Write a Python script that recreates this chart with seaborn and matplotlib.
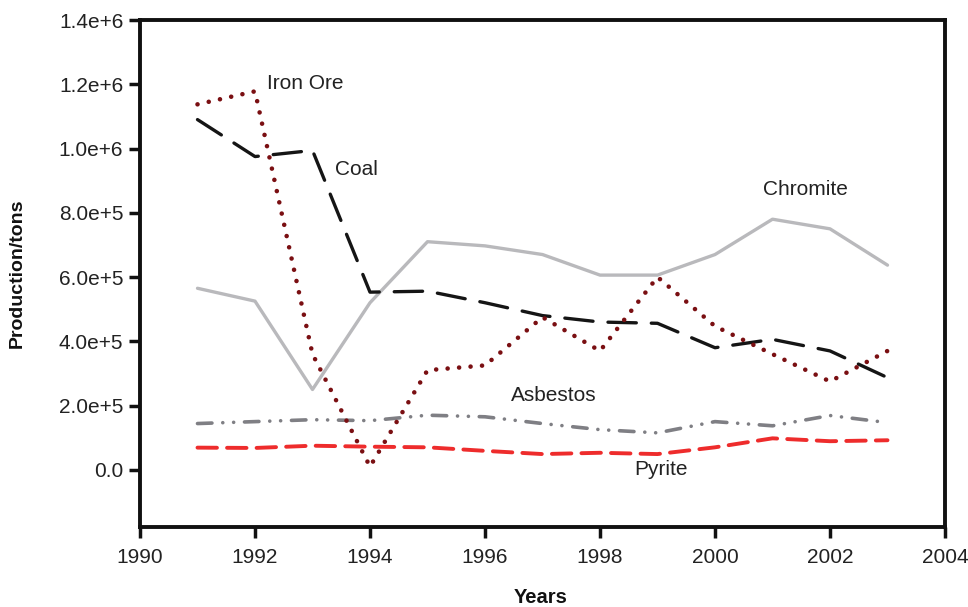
import matplotlib
matplotlib.use("Agg")
import matplotlib.pyplot as plt
import seaborn as sns
import pandas as pd

years = list(range(1991, 2004))
iron_ore = [1.1375e6, 1.178e6, 3.6e5, 1.0e4, 3.1e5, 3.25e5, 4.75e5, 3.7e5, 6.0e5, 4.47e5, 3.6e5, 2.75e5, 3.7e5]
coal = [1.09e6, 9.75e5, 9.94e5, 5.53e5, 5.56e5, 5.2e5, 4.8e5, 4.6e5, 4.56e5, 3.8e5, 4.06e5, 3.7e5, 2.87e5]
chromite = [5.65e5, 5.25e5, 2.5e5, 5.2e5, 7.1e5, 6.97e5, 6.7e5, 6.06e5, 6.06e5, 6.7e5, 7.8e5, 7.5e5, 6.37e5]
asbestos = [1.44e5, 1.5e5, 1.56e5, 1.53e5, 1.7e5, 1.65e5, 1.44e5, 1.25e5, 1.15e5, 1.5e5, 1.37e5, 1.69e5, 1.47e5]
pyrite = [6.9e4, 6.8e4, 7.5e4, 7.2e4, 7.0e4, 5.9e4, 4.9e4, 5.3e4, 4.9e4, 7.0e4, 9.8e4, 8.9e4, 9.2e4]

x_ticks = [1990, 1992, 1994, 1996, 1998, 2000, 2002, 2004]
y_ticks = [0, 2e5, 4e5, 6e5, 8e5, 1.0e6, 1.2e6, 1.4e6]
y_tick_labels = ["0.0", "2.0e+5", "4.0e+5", "6.0e+5", "8.0e+5", "1.0e+6", "1.2e+6", "1.4e+6"]

sns.set_style("white")
plt.rcParams['font.family'] = ['Liberation Sans', 'DejaVu Sans']

fig = plt.figure(figsize=(9.68, 6.07), dpi=100)
ax = fig.add_axes([140/968, 1-527/607, (945-140)/968, (527-20)/607])

series = [
    ("Chromite", chromite, "#b9b9bc", dict(linestyle="-", linewidth=2.4)),
    ("Asbestos", asbestos, "#7f7f84", dict(linestyle=(0, (4, 3, 0.01, 3, 0.01, 3)), linewidth=2.6, dash_capstyle="round")),
    ("Pyrite", pyrite, "#ee2c2c", dict(linestyle=(0, (5.0, 2.6)), linewidth=2.8, dash_capstyle="round")),
    ("Coal", coal, "#151515", dict(linestyle=(0, (8.5, 4.5)), linewidth=2.4, dash_capstyle="round")),
    ("Iron Ore", iron_ore, "#7a0f12", dict(linestyle=(0, (0.01, 2.5)), linewidth=3.3, dash_capstyle="round")),
]
for name, vals, color, kw in series:
    df = pd.DataFrame({"Year": years, "Value": vals})
    sns.lineplot(data=df, x="Year", y="Value", ax=ax, color=color, **kw)

labels = [
    ("Iron Ore", 1992.21, 1.203e6),
    ("Coal", 1993.39, 9.34e5),
    ("Chromite", 2000.83, 8.72e5),
    ("Asbestos", 1996.45, 2.31e5),
    ("Pyrite", 1998.59, 0.0),
]
for txt, lx, ly in labels:
    ax.text(lx, ly, txt, fontsize=15, color="#222222", va="center", ha="left")

ax.set_xlim(1990, 2004)
ax.set_ylim(-1.78e5, 1.4e6)
ax.set_xticks(x_ticks)
ax.set_yticks(y_ticks)
ax.set_yticklabels(y_tick_labels)
ax.tick_params(axis="both", direction="out", length=8, width=2.5, labelsize=15,
               colors="#111111", labelcolor="#222222", pad=4, bottom=True, left=True)
ax.tick_params(axis="x", pad=7)
for sp in ax.spines.values():
    sp.set_linewidth(2.8)
    sp.set_color("#111111")
    sp.set_visible(True)
ax.set_xlabel("Years", fontsize=14.5, fontweight="bold", color="#111111")
ax.set_ylabel("Production/tons", fontsize=14, fontweight="bold", color="#111111")
ax.xaxis.set_label_coords((541-140)/805, -(588-527)/507)
ax.yaxis.set_label_coords(-(140-26)/805, (527-273)/507)
ax.grid(False)

fig.savefig("out.png", dpi=100)
